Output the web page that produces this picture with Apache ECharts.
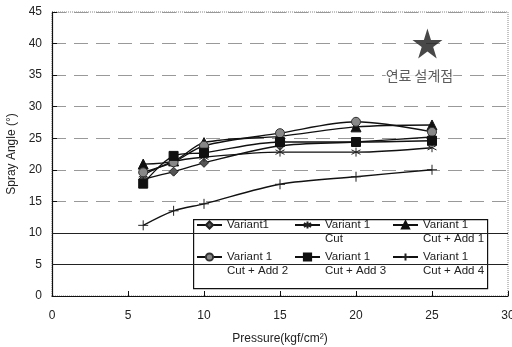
<!DOCTYPE html>
<html><head><meta charset="utf-8">
<script src="https://cdn.jsdelivr.net/npm/echarts@6/dist/echarts.min.js"></script>
<style>html,body{margin:0;padding:0;background:#fff}#c{width:512px;height:347px}</style>
</head><body><div id="c"></div>
<script>
const pressure = [6, 8, 10, 15, 20, 25];
const variant1 = [18.5, 19.7, 21.1, 23.8, 24.4, 25.2];
const cut = [19.2, 21.3, 22.0, 22.8, 22.8, 23.5];
const cutAdd1 = [20.9, 21.4, 24.3, 25.3, 26.8, 27.1];
const cutAdd2 = [19.6, 21.2, 23.8, 25.8, 27.6, 26.0];
const cutAdd3 = [17.8, 22.2, 22.7, 24.4, 24.4, 24.6];
const cutAdd4 = [11.2, 13.5, 14.6, 17.7, 18.9, 20.0];
const designPoint = [24.7, 40];
const designLabel = '연료 설계점';
const names = ['Variant1', 'Variant 1\nCut', 'Variant 1\nCut + Add 1', 'Variant 1\nCut + Add 2', 'Variant 1\nCut + Add 3', 'Variant 1\nCut + Add 4'];
const xTicks = [0, 5, 10, 15, 20, 25, 30];
const yTicks = [0, 5, 10, 15, 20, 25, 30, 35, 40, 45];

const FONT = 'Liberation Sans';
const pair = (arr) => pressure.map((x, i) => [x, arr[i]]);
const STAR = 'path://M50,0L61.8,36.2L100,36.2L69.1,58.6L80.9,95.1L50,72.7L19.1,95.1L30.9,58.6L0,36.2L38.2,36.2Z';
const ASTER = 'path://M5,0L5,10M0.7,2.5L9.3,7.5M0.7,7.5L9.3,2.5';
const PLUS = 'path://M0,5L10,5M5,0L5,10';

function mk(name, data, symbol, size, fill, border, bw) {
  return {
    name, type: 'line', data: pair(data), smooth: 0.3,
    symbol, symbolSize: size,
    lineStyle: { color: '#111', width: 1.4 },
    itemStyle: { color: fill, borderColor: border, borderWidth: bw },
    z: 3
  };
}
const series = [
  mk(names[0], variant1, 'diamond', 9, '#555', '#222', 1),
  mk(names[1], cut, ASTER, 9, 'none', '#222', 1),
  mk(names[2], cutAdd1, 'triangle', 10, '#111', '#111', 1),
  mk(names[3], cutAdd2, 'circle', 9, '#888', '#333', 1),
  mk(names[4], cutAdd3, 'rect', 9, '#111', '#111', 1),
  mk(names[5], cutAdd4, PLUS, 10, 'none', '#222', 1),
  {
    name: 'design', type: 'scatter', data: [designPoint], symbol: STAR, symbolSize: 30,
    itemStyle: { color: '#1a1a1a' }, z: 5,
    label: { show: true, position: 'bottom', distance: 10, offset: [-8, 0], formatter: designLabel,
      fontFamily: 'Noto Sans CJK KR', fontSize: 14, color: '#333', backgroundColor: '#fff' }
  },
  {
    type: 'line', data: [], markLine: { silent: true, symbol: 'none', label: { show: false },
      lineStyle: { color: '#222', type: 'solid', width: 1 },
      data: [{ yAxis: 5 }, { yAxis: 10 }] }, z: 1
  }
];

const L = 14;
function legendItem(left, iconCenter, name) {
  const multi = name.indexOf('\n') >= 0;
  const h = multi ? 3 * L : L;
  return {
    left, top: Math.round(iconCenter - h / 2), itemWidth: 25, itemHeight: 9, itemGap: 0,
    selectedMode: false, padding: 0,
    formatter: n => (n.indexOf('\n') >= 0 ? '\n' + n : n),
    textStyle: { fontFamily: FONT, fontSize: 11.5, color: '#222', lineHeight: L },
    data: [name]
  };
}
const colLeft = [196, 294, 392];
const rowC = [225, 257];

const chart = echarts.init(document.getElementById('c'), null, { renderer: 'canvas' });
chart.setOption({
  animation: false,
  backgroundColor: '#fff',
  grid: { left: 52, right: 4, top: 12, bottom: 51, outerBoundsMode: 'none', containLabel: false,
    show: true, borderColor: '#888', borderWidth: 1, borderType: 'dotted' },
  xAxis: {
    type: 'value', min: xTicks[0], max: xTicks[xTicks.length - 1], interval: 5,
    name: 'Pressure(kgf/cm²)', nameLocation: 'middle', nameGap: 37,
    nameTextStyle: { fontFamily: FONT, fontSize: 12, color: '#222' },
    axisLine: { show: true, lineStyle: { color: '#111', width: 1.2 } },
    axisTick: { show: true, inside: true, length: 5, lineStyle: { color: '#111' } },
    axisLabel: { fontFamily: FONT, fontSize: 12, color: '#222', margin: 14 },
    splitLine: { show: false }
  },
  yAxis: {
    type: 'value', min: yTicks[0], max: yTicks[yTicks.length - 1], interval: 5,
    name: 'Spray Angle (°)', nameLocation: 'middle', nameGap: 34, nameRotate: 90,
    nameTextStyle: { fontFamily: FONT, fontSize: 12, color: '#222' },
    axisLine: { show: true, lineStyle: { color: '#111', width: 1.2 } },
    axisTick: { show: true, inside: true, length: 5, lineStyle: { color: '#111' } },
    axisLabel: { fontFamily: FONT, fontSize: 12, color: '#222', margin: 10 },
    splitLine: { show: true, lineStyle: { color: '#999', type: [14, 8], width: 1 } }
  },
  graphic: [{
    type: 'rect', left: 193, top: 219, z: 3,
    shape: { width: 294, height: 69 },
    style: { fill: '#fff', stroke: '#111', lineWidth: 1.2 }
  }],
  legend: [
    legendItem(colLeft[0], rowC[0], names[0]),
    legendItem(colLeft[1], rowC[0], names[1]),
    legendItem(colLeft[2], rowC[0], names[2]),
    legendItem(colLeft[0], rowC[1], names[3]),
    legendItem(colLeft[1], rowC[1], names[4]),
    legendItem(colLeft[2], rowC[1], names[5])
  ],
  series
});
</script></body></html>
